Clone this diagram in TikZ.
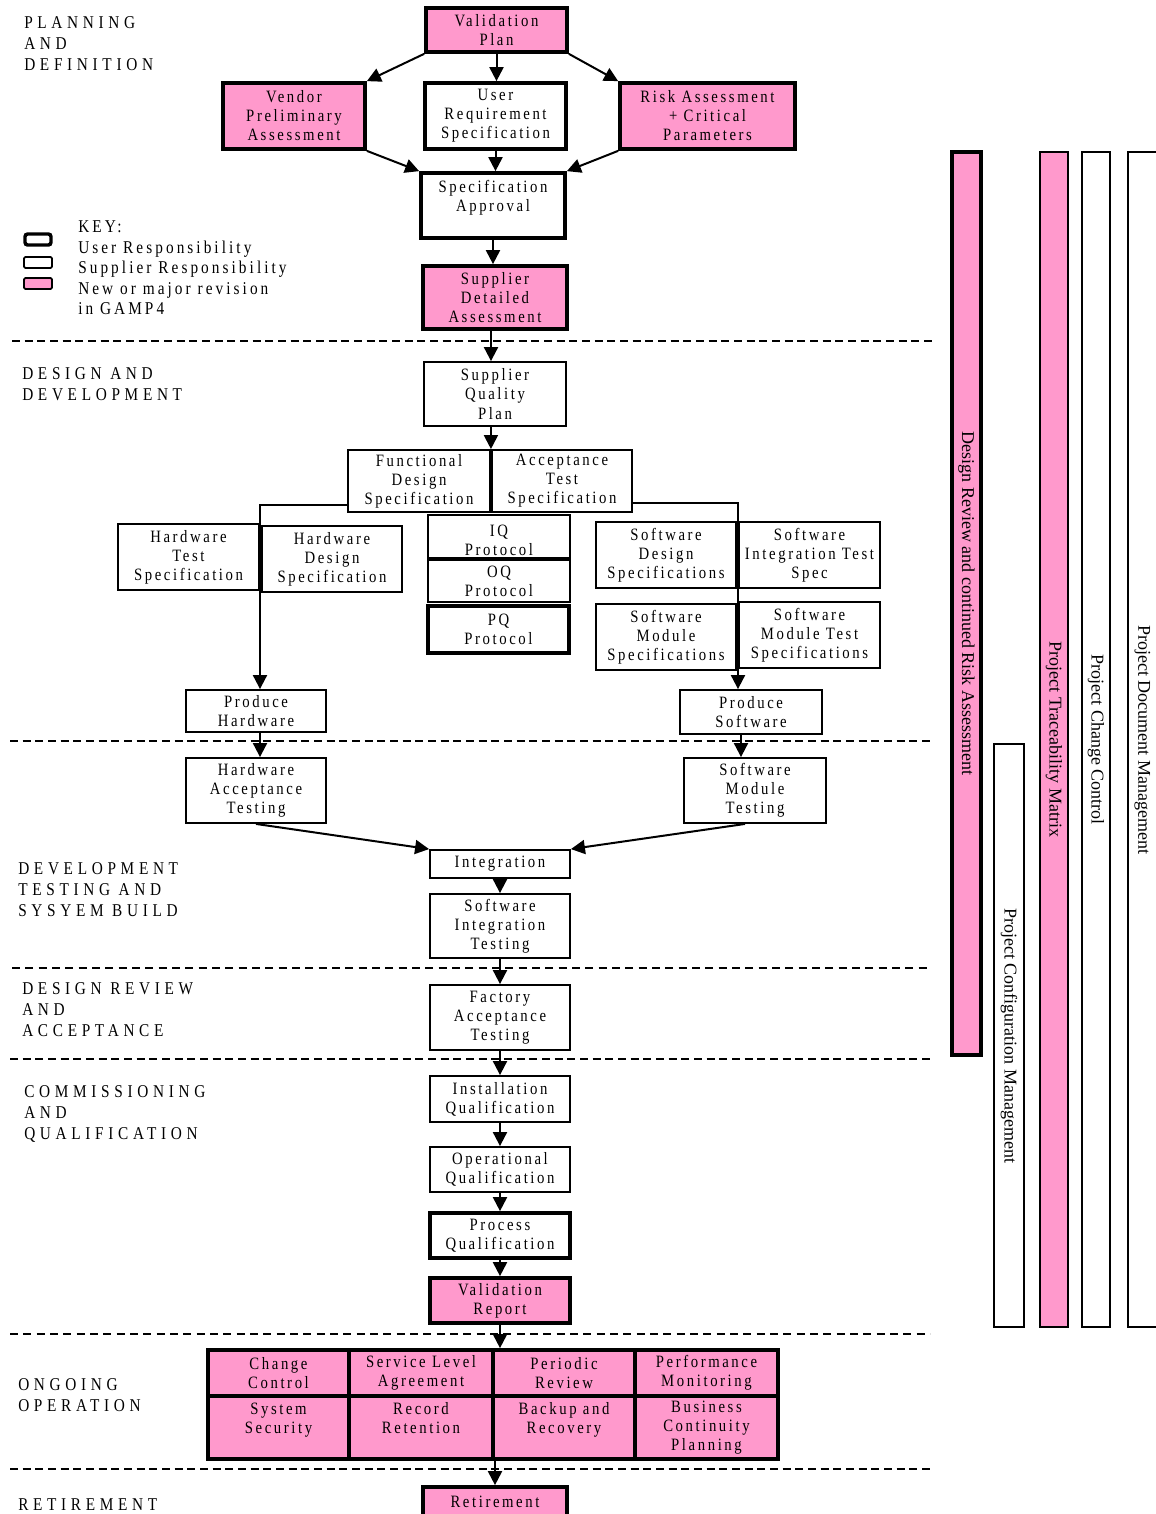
\documentclass[tikz,border=0pt]{standalone}
\usepackage{fontspec}
\setmainfont{Liberation Serif}
\newfontfamily\boxfont[LetterSpace=15,FakeStretch=0.85]{Liberation Serif}
\newfontfamily\headfont[LetterSpace=26,FakeStretch=0.85]{Liberation Serif}
\newfontfamily\keyfont[LetterSpace=17,FakeStretch=0.85]{Liberation Serif}
\newfontfamily\barfont{Liberation Serif}
\usetikzlibrary{arrows.meta}
\definecolor{gpink}{RGB}{255,153,204}
\begin{document}
\begin{tikzpicture}[x=0.75pt,y=-0.75pt,
  base/.style={draw, align=center, inner sep=0pt, font=\boxfont\fontsize{13}{14.3}\selectfont},
  supp/.style={base, line width=1.4pt, fill=white},
  usr/.style={base, line width=2.8pt, fill=white},
  newu/.style={usr, fill=gpink},
  sz/.style 2 args={minimum width=#1*0.75pt, minimum height=#2*0.75pt},
  arr/.style={line width=1.5pt, -{Triangle[length=10.5pt,width=10.5pt]}},
  thickdash/.style={line width=2.2pt, dash pattern=on 6pt off 3.5pt},
  thindash/.style={line width=1.1pt, dash pattern=on 6pt off 4pt},
  head/.style={anchor=west, align=left, inner sep=0pt, font=\headfont\fontsize{13.5}{15.75}\selectfont},
  bar/.style={rotate=-90, inner sep=0pt, font=\barfont\fontsize{13.5}{13.5}\selectfont}
]
\useasboundingbox (0,0) rectangle (1156,1514);
\fill[white] (0,0) rectangle (1156,1514);

% section separators
\draw[thickdash] (12,341) -- (932,341);
\draw[thickdash] (10,741) -- (932,741);
\draw[thindash] (12,968) -- (930,968);
\draw[thickdash] (10,1059) -- (932,1059);
\draw[thindash] (10,1334) -- (930,1334);
\draw[thickdash] (10,1469) -- (930,1469);

% headings
\node[head] (h1) at (24,44) {PLANNING\\AND\\DEFINITION};
\node[head] (h2) at (22,384) {DESIGN AND\\DEVELOPMENT};
\node[head] (h3) at (18,890) {DEVELOPMENT\\TESTING AND\\SYSYEM BUILD};
\node[head] (h4) at (22,1010) {DESIGN REVIEW\\AND\\ACCEPTANCE};
\node[head] (h5) at (24,1114) {COMMISSIONING\\AND\\QUALIFICATION};
\node[head] (h6) at (18,1395) {ONGOING\\OPERATION};
\node[head] (h7) at (18,1505) {RETIREMENT};

% key
\draw[line width=2.6pt, rounded corners=2pt] (25,234) rectangle (51,245);
\draw[line width=1.4pt, rounded corners=1pt] (24,257) rectangle (52,268);
\draw[line width=1.4pt, rounded corners=1pt, fill=gpink] (24,278) rectangle (52,289);
\node[anchor=west, align=left, inner sep=0pt, font=\keyfont\fontsize{13.5}{15.4}\selectfont] (key) at (78,268)
  {KEY:\\User Responsibility\\Supplier Responsibility\\New or major revision\\in GAMP4};

% planning and definition
\node[newu, sz={141}{44}] (vp) at (496.5,30) {Validation\\Plan};
\node[newu, sz={142}{66}] (vend) at (294,116) {Vendor\\Preliminary\\Assessment};
\node[usr, sz={141}{66}] (urs) at (495.5,116) {User\\Requirement\\Specification};
\node[newu, sz={175}{66}] (risk) at (707.5,116) {Risk Assessment\\+ Critical\\Parameters};
\node[usr, sz={144}{65}] (sa) at (493,205.5) {Specification\\Approval\\\mbox{}};
\node[newu, sz={144}{63}] (sda) at (495,297.5) {Supplier\\Detailed\\Assessment};

% design and development
\node[supp, sz={142}{64}] (sqp) at (495,394) {Supplier\\Quality\\Plan};
\node[supp, sz={142}{62}] (fds) at (419,481) {Functional\\Design\\Specification};
\node[supp, sz={140}{62}] (ats) at (562,481) {Acceptance\\Test\\Specification};
\node[supp, sz={141}{66}] (hts) at (188.5,557) {Hardware\\Test\\Specification};
\node[supp, sz={140}{66}] (hds) at (332,559) {Hardware\\Design\\Specification};
\node[supp, sz={142}{43}] (iqp) at (499,536.5) {\rule{0pt}{15pt}IQ\\Protocol};
\node[supp, sz={142}{42}] (oqp) at (499,581) {OQ\\Protocol};
\node[usr, sz={141}{47}] (pqp) at (498.5,629.5) {PQ\\Protocol};
\node[supp, sz={140}{66}] (sds) at (666,555) {Software\\Design\\Specifications};
\node[supp, sz={141}{66}] (sits) at (809.5,555) {Software\\Integration Test\\Spec};
\node[supp, sz={140}{66}] (sms) at (666,637) {Software\\Module\\Specifications};
\node[supp, sz={141}{66}] (smts) at (809.5,635) {Software\\Module Test\\Specifications};
\node[supp, sz={140}{42}] (ph) at (256,711) {Produce\\Hardware};
\node[supp, sz={142}{44}] (psw) at (751,712) {Produce\\Software};

% development testing
\node[supp, sz={140}{65}] (hat) at (256,790.5) {Hardware\\Acceptance\\Testing};
\node[supp, sz={142}{65}] (smt) at (755,790.5) {Software\\Module\\Testing};
\node[supp, sz={140}{28}] (intg) at (500,864) {Integration};
\node[supp, sz={140}{64}] (sit) at (500,926) {Software\\Integration\\Testing};
\node[supp, sz={140}{65}] (fat) at (500,1017.5) {Factory\\Acceptance\\Testing};

% commissioning
\node[supp, sz={140}{46}] (iq) at (500,1099) {Installation\\Qualification};
\node[supp, sz={140}{45}] (oq) at (500,1169.5) {Operational\\Qualification};
\node[usr, sz={140}{45}] (pq) at (500,1235.5) {Process\\Qualification};
\node[newu, sz={140}{45}] (vr) at (500,1300.5) {Validation\\Report};

% ongoing operation
\node[newu, sz={141}{46}] (cc) at (278.5,1373) {Change\\Control};
\node[newu, sz={144}{46}] (sla) at (421,1373) {Service Level\\Agreement};
\node[newu, sz={142}{46}] (pr) at (564,1373) {Periodic\\Review};
\node[newu, sz={143}{46}] (pm) at (706.5,1373) {Performance\\Monitoring};
\node[newu, sz={141}{63}] (ss) at (278.5,1427.5) {System\\Security\\\mbox{}};
\node[newu, sz={144}{63}] (rr) at (421,1427.5) {Record\\Retention\\\mbox{}};
\node[newu, sz={142}{63}] (br) at (564,1427.5) {Backup and\\Recovery\\\mbox{}};
\node[newu, sz={143}{63}] (bcp) at (706.5,1427.5) {Business\\Continuity\\Planning};

% retirement
\node[newu, sz={144}{30}] (ret) at (495,1502) {Retirement};

% side bars
\node[bar, draw, fill=gpink, line width=2.8pt, minimum width=903*0.75pt, minimum height=29*0.75pt] (drb) at (966.5,603.5) {Design Review and continued Risk Assessment};
\node[bar, draw, fill=white, line width=1.4pt, minimum width=583*0.75pt, minimum height=30*0.75pt] (pcm) at (1009,1035.5) {Project Configuration Management};
\node[bar, draw, fill=gpink, line width=1.4pt, minimum width=1175*0.75pt, minimum height=28*0.75pt] (ptm) at (1054,739.5) {Project Traceability Matrix};
\node[bar, draw, fill=white, line width=1.4pt, minimum width=1175*0.75pt, minimum height=28*0.75pt] (pcc) at (1096,739.5) {Project Change Control};
\node[bar, draw, fill=white, line width=1.4pt, minimum width=1175*0.75pt, minimum height=29*0.75pt] (pdm) at (1142.5,739.5) {Project Document Management};

% connectors
\draw[arr] (vp.south west) -- (vend.north east);
\draw[arr] (vp.south) -- (vp.south |- urs.north);
\draw[arr] (vp.south east) -- (risk.north west);
\draw[arr] (vend.south east) -- (sa.north west);
\draw[arr] (urs.south) -- (urs.south |- sa.north);
\draw[arr] (risk.south west) -- (sa.north east);
\draw[arr] (sa.south) -- (sa.south |- sda.north);
\draw[arr] ([xshift=-3pt]sda.south) -- ([xshift=-3pt]sda.south |- sqp.north);
\draw[arr] (fds.north east |- sqp.south) -- (fds.north east);
\draw[arr] ([yshift=6pt]fds.south west) -| ([xshift=3pt]ph.north);
\draw[arr] ([yshift=7.5pt]ats.south east) -| ([xshift=-9.75pt]psw.north);
\draw[arr] ([xshift=3pt]ph.south) -- ([xshift=3pt]hat.north);
\draw[arr] ([xshift=-7.5pt]psw.south) -- ([xshift=-7.5pt]psw.south |- smt.north);
\draw[arr] (hat.south) -- (intg.north west);
\draw[arr] ([xshift=-7.5pt]smt.south) -- (intg.north east);
\draw[arr] (intg.south) -- (sit.north);
\draw[arr] (sit.south) -- (fat.north);
\draw[arr] (fat.south) -- (iq.north);
\draw[arr] (iq.south) -- (oq.north);
\draw[arr] (oq.south) -- (pq.north);
\draw[arr] (pq.south) -- (vr.north);
\draw[arr] (vr.south) -- (vr.south |- pr.north);
\draw[arr] (ret.north |- br.south) -- (ret.north);
\end{tikzpicture}
\end{document}
